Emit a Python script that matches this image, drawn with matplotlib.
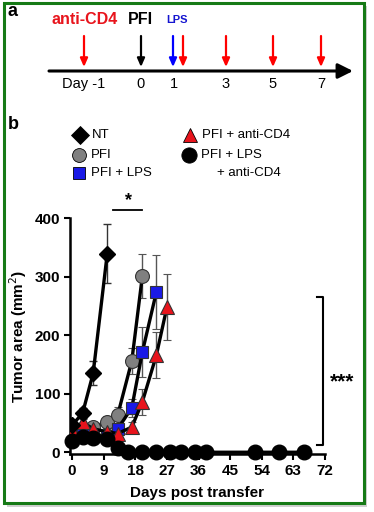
import matplotlib.pyplot as plt
from matplotlib.patches import Rectangle

plt.rcParams['font.family'] = ['Liberation Sans', 'DejaVu Sans']

# ---- data (panel b) ----
days_nt = [0, 3, 6, 10]
nt = [46, 67, 135, 339]
nt_err = [5, 8, 20, 50]

days_pfi = [0, 3, 6, 10, 13, 17, 20]
pfi = [28, 32, 43, 52, 64, 156, 301]
pfi_err = [4, 5, 6, 10, 14, 22, 38]

days_lps = [0, 3, 6, 10, 13, 17, 20, 24]
lps = [30, 30, 30, 28, 40, 76, 171, 274]
lps_err = [4, 4, 4, 5, 8, 15, 43, 63]

days_cd4 = [0, 3, 6, 10, 13, 17, 20, 24, 27]
cd4 = [38, 51, 40, 35, 32, 43, 86, 166, 248]
cd4_err = [5, 5, 5, 5, 8, 8, 22, 40, 57]

days_lps_cd4 = [0, 3, 6, 10, 13, 16, 20, 24, 28, 31, 35, 38, 52, 59, 66]
lps_cd4 = [19, 26, 25, 22, 7, 0, 0, 0, 0, 0, 0, 0, 0, 0, 0]
lps_cd4_err = [3, 3, 3, 3, 2, 0, 0, 0, 0, 0, 0, 0, 0, 0, 0]

legend_labels = ['NT', 'PFI', 'PFI + LPS', 'PFI + anti-CD4', 'PFI + LPS', '+ anti-CD4']
x_ticks = [0, 9, 18, 27, 36, 45, 54, 63, 72]
y_ticks = [0, 100, 200, 300, 400]

# ---- data (panel a timeline) ----
tl_labels = ['Day -1', '0', '1', '3', '5', '7']
tl_pos = [84, 141, 174, 226, 273, 321]          # schematic x positions (px)
tl_arrows = [(84, 'red'), (141, 'black'), (173, 'blue'), (183, 'red'),
             (226, 'red'), (273, 'red'), (321, 'red')]

W, H = 374, 512
fig = plt.figure(figsize=(W / 100, H / 100), dpi=100)

# overlay axes in pixel coordinates
ov = fig.add_axes([0, 0, 1, 1])
ov.set_xlim(0, W)
ov.set_ylim(H, 0)
ov.axis('off')

# shadow + green frame
ov.add_patch(Rectangle((7, 6), 360, 501, facecolor='#d0d0d0', edgecolor='none', zorder=0))
ov.add_patch(Rectangle((4, 3), 360, 500, facecolor='white', edgecolor='#167a16', lw=2.2, zorder=1))

# panel labels
ov.text(8, 3, 'a', fontsize=13, fontweight='bold', va='top', ha='left', zorder=5)
ov.text(8, 116, 'b', fontsize=13, fontweight='bold', va='top', ha='left', zorder=5)

# timeline
ov.annotate('', xy=(353, 71), xytext=(49, 71),
            arrowprops=dict(arrowstyle='-|>,head_length=0.9,head_width=0.45',
                            lw=2.2, color='black', shrinkA=0, shrinkB=0), zorder=3)
for xp, c in tl_arrows:
    ov.annotate('', xy=(xp, 67), xytext=(xp, 36),
                arrowprops=dict(arrowstyle='-|>,head_length=0.5,head_width=0.22',
                                lw=1.6, color=c, shrinkA=0, shrinkB=0), zorder=3)
for xp, lab in zip(tl_pos, tl_labels):
    ov.text(xp, 84, lab, fontsize=10.5, ha='center', va='center', zorder=3)
ov.text(85, 20, 'anti-CD4', fontsize=11.5, fontweight='bold', color='#e8141c',
        ha='center', va='center', zorder=3)
ov.text(140, 20, 'PFI', fontsize=11.5, fontweight='bold', color='black',
        ha='center', va='center', zorder=3)
ov.text(177, 20, 'LPS', fontsize=8, fontweight='bold', color='#1414d0',
        ha='center', va='center', zorder=3)

# legend (manual layout)
leg_styles = [
    dict(marker='D', color='black', ms=9),
    dict(marker='o', color='#808080', ms=10),
    dict(marker='s', color='#1a1ae6', ms=8),
    dict(marker='^', color='#e8141c', ms=10),
    dict(marker='o', color='black', ms=11),
    None,
]
leg_xy = [(80, 135), (79, 155), (79, 173), (190, 135), (189, 155), (190, 173)]
for (xl, yl), st, lab in zip(leg_xy, leg_styles, legend_labels):
    if st is not None:
        ov.plot(xl, yl, marker=st['marker'], ms=st['ms'], mfc=st['color'],
                mec='black', mew=0.6, ls='none', zorder=3)
        ov.text(xl + 12, yl, lab, fontsize=9.5, ha='left', va='center', zorder=3)
    else:
        ov.text(xl + 27, yl, lab, fontsize=9.5, ha='left', va='center', zorder=3)

# ---- panel b axes ----
ax = fig.add_axes([70 / W, 1 - 454 / H, (325 - 70) / W, (454 - 218) / H])
ax.set_xlim(-0.6, 72)
ax.set_ylim(-3, 400)
ax.patch.set_alpha(0)

err_kw = dict(elinewidth=1.0, capsize=3, capthick=1.0, lw=2.4, color='black')
ax.errorbar(days_nt, nt, yerr=nt_err, marker='D', ms=8.5, mfc='black', mec='black',
            ecolor='#333333', zorder=4, **err_kw)
ax.errorbar(days_pfi, pfi, yerr=pfi_err, marker='o', ms=10, mfc='#808080', mec='#333333',
            mew=0.8, ecolor='#555555', zorder=3, **err_kw)
ax.errorbar(days_lps, lps, yerr=lps_err, marker='s', ms=9, mfc='#1a1ae6', mec='#333333',
            mew=0.8, ecolor='#555555', zorder=3, **err_kw)
ax.errorbar(days_cd4, cd4, yerr=cd4_err, marker='^', ms=10, mfc='#e8141c', mec='#333333',
            mew=0.8, ecolor='#555555', zorder=3, **err_kw)
ax.errorbar(days_lps_cd4, lps_cd4, yerr=lps_cd4_err, marker='o', ms=10.5, mfc='black',
            mec='black', ecolor='#333333', zorder=5, clip_on=False, **err_kw)

for s in ['top', 'right']:
    ax.spines[s].set_visible(False)
for s in ['left', 'bottom']:
    ax.spines[s].set_linewidth(1.8)
ax.set_xticks(x_ticks)
ax.set_yticks(y_ticks)
ax.tick_params(width=1.5, length=4, labelsize=11, pad=3)
for t in ax.get_xticklabels() + ax.get_yticklabels():
    t.set_fontweight('bold')
ax.set_xlabel('Days post transfer', fontsize=11, fontweight='bold', labelpad=6)
ax.set_ylabel('Tumor area (mm$^2$)', fontsize=11, fontweight='bold', labelpad=4)

# significance marks
ax.plot([11.7, 20], [414, 414], color='black', lw=1.3, clip_on=False)
ax.text(16, 416, '*', fontsize=13, fontweight='bold', ha='center', va='bottom')
ax.plot([69.8, 71.5, 71.5, 69.8], [265, 265, 12, 12], color='black', lw=1.5, clip_on=False)
ax.text(73.5, 120, '***', fontsize=15, fontweight='bold', ha='left', va='center')

fig.savefig('out.png', dpi=100)
